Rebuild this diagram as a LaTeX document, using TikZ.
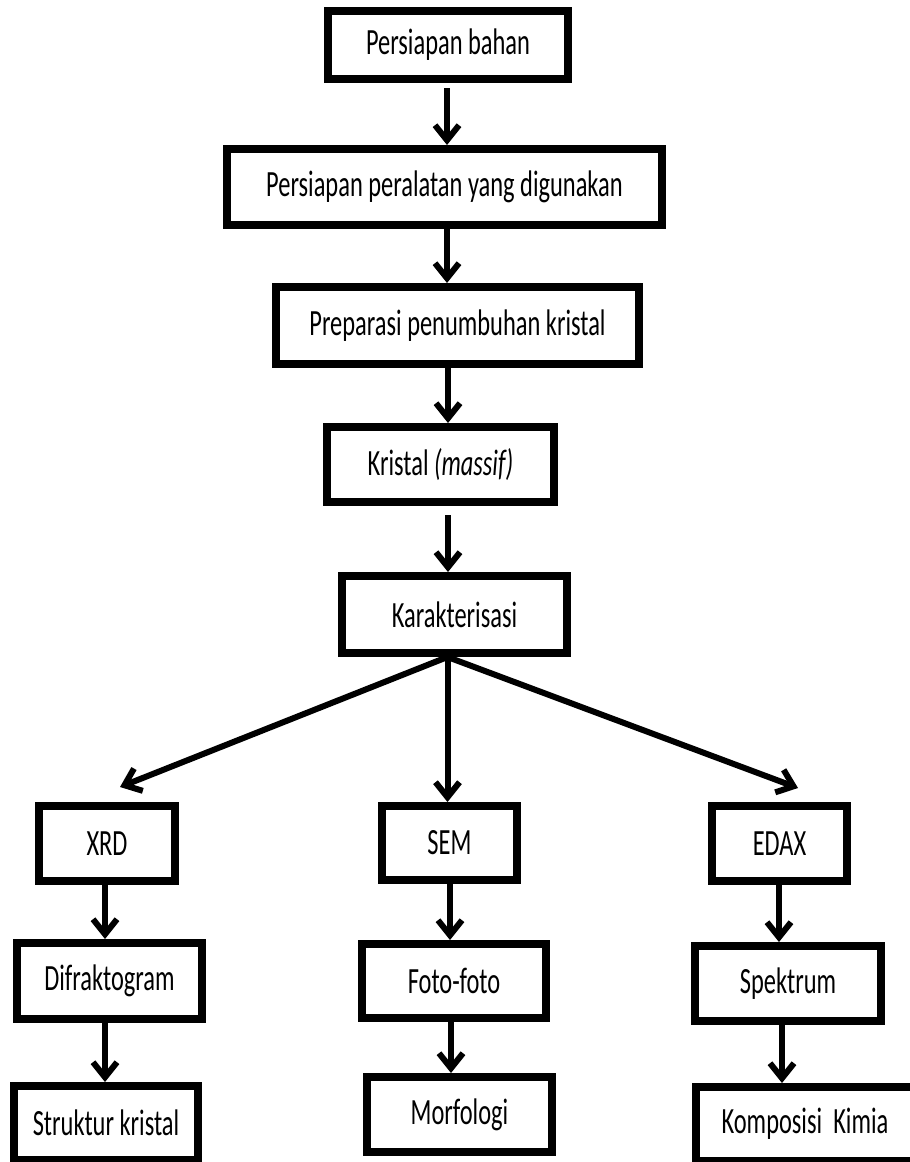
\documentclass[tikz,border=0pt]{standalone}
\usepackage{fontspec}
\setmainfont{Carlito}[FakeStretch=0.66]
\usetikzlibrary{arrows.meta,calc}
\tikzset{
  box/.style={draw=black, line width=8pt, fill=white, inner sep=0pt, align=center,
    font=\fontsize{37}{40}\selectfont, text=black},
  arr/.style={line width=6pt, -{Straight Barb[length=15pt,width=24pt]}},
}
\begin{document}
\begin{tikzpicture}[x=1pt,y=-1pt]
\useasboundingbox (0,0) rectangle (910,1162);
\clip (0,0) rectangle (910,1162);
\node[box, minimum width=240pt, minimum height=68pt] (b1) at (448,45) {Persiapan bahan};
\node[box, minimum width=435pt, minimum height=76pt] (b2) at (444.5,187) {Persiapan peralatan yang digunakan};
\node[box, minimum width=363pt, minimum height=77pt] (b3) at (457.5,325.5) {Preparasi penumbuhan kristal};
\node[box, minimum width=227pt, minimum height=75pt] (b4) at (440.5,464.5) {Kristal \textit{(massif)}};
\node[box, minimum width=225pt, minimum height=77pt] (b5) at (454.5,614.5) {Karakterisasi};
\node[box, minimum width=136pt, minimum height=75pt] (xrd) at (107,843.5) {XRD};
\node[box, minimum width=135pt, minimum height=74pt] (sem) at (449.5,843) {SEM};
\node[box, minimum width=135pt, minimum height=75pt] (edax) at (779.5,843.5) {EDAX};
\node[box, minimum width=185pt, minimum height=76pt] (dif) at (109.5,981) {Difraktogram};
\node[box, minimum width=184pt, minimum height=74pt] (foto) at (454,981) {Foto-foto};
\node[box, minimum width=186pt, minimum height=75pt] (spek) at (788,983.5) {Spektrum};
\node[box, minimum width=184pt, minimum height=74pt] (stru) at (106,1123) {Struktur kristal};
\node[box, minimum width=185pt, minimum height=75pt] (morf) at (459.5,1114.5) {Morfologi};
\node[box, minimum width=218pt, minimum height=74pt] (komp) at (805,1124) {Komposisi\ \ Kimia};
% vertical arrows
\draw[arr, shorten <=5pt] ([xshift=-1pt]b1.south) -- ([xshift=-1pt]b1.south |- b2.north);
\draw[arr] ([xshift=2.5pt]b2.south) -- ([xshift=2.5pt]b2.south |- b3.north);
\draw[arr] ([xshift=-9.5pt]b3.south) -- ([xshift=-9.5pt]b3.south |- b4.north);
\draw[arr, shorten <=9pt] ([xshift=7.5pt]b4.south) -- ([xshift=7.5pt]b4.south |- b5.north);
% branches
\coordinate (k) at ([xshift=-7pt]b5.south);
\coordinate (tl) at (120,787);
\coordinate (tr) at (798,788);
\draw[arr] (k) -- (tl);
\draw[arr] (k) -- (k |- sem.north);
\draw[arr] (k) -- (tr);
% columns
\draw[arr] ([xshift=-2pt]xrd.south) -- ([xshift=-2pt]xrd.south |- dif.north);
\draw[arr] ([xshift=-4.5pt]dif.south) -- ([xshift=-4.5pt]dif.south |- stru.north);
\draw[arr] ([xshift=0.5pt]sem.south) -- ([xshift=0.5pt]sem.south |- foto.north);
\draw[arr] ([xshift=-3pt]foto.south) -- ([xshift=-3pt]foto.south |- morf.north);
\draw[arr] ([xshift=-0.5pt]edax.south) -- ([xshift=-0.5pt]edax.south |- spek.north);
\draw[arr] ([xshift=-6pt]spek.south) -- ([xshift=-6pt]spek.south |- komp.north);
\end{tikzpicture}
\end{document}
